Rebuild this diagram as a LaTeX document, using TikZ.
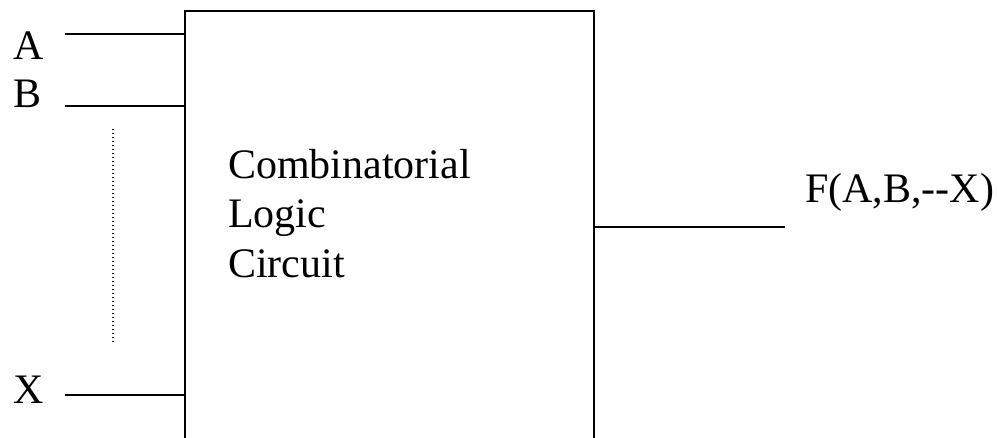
\documentclass[tikz,border=0pt]{standalone}
\usepackage{fontspec}
\setmainfont{Liberation Serif}
\begin{document}
\begin{tikzpicture}[x=1pt,y=-1pt,
  lbl/.style={inner sep=0pt,anchor=base west,font=\fontsize{42}{49.5}\selectfont},
  wire/.style={line width=2pt},
  dotwire/.style={line width=1.2pt,dash pattern=on 1.3pt off 2.7pt},
  blockbox/.style={draw,line width=2pt,inner sep=0pt,minimum width=409pt,minimum height=460pt,anchor=north west}]
\useasboundingbox (0,0) rectangle (998,438);
\node[blockbox] (box) at (184,10) {};
\node[lbl] (la) at (13,60) {A};
\node[lbl] (lb) at (13,108) {B};
\node[lbl] (lx) at (13,403) {X};
\node[lbl,align=left] (txt) at (228,277) {Combinatorial\\Logic\\Circuit};
\node[lbl] (lf) at (805,203) {F(A,B,-{}-X)};
\coordinate (ia) at (65,34);
\coordinate (ib) at (65,106);
\coordinate (ix) at (65,395);
\coordinate (oe) at (785,227);
\coordinate (d1) at (113,129);
\coordinate (d2) at (113,343);
\draw[wire] (ia) -- (box.west |- ia);
\draw[wire] (ib) -- (box.west |- ib);
\draw[wire] (ix) -- (box.west |- ix);
\draw[wire] (box.east |- oe) -- (oe);
\draw[dotwire] (d1) -- (d2);
\end{tikzpicture}
\end{document}
